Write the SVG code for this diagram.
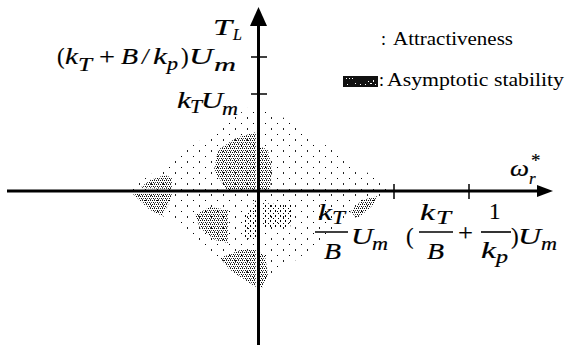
<svg xmlns="http://www.w3.org/2000/svg" width="566" height="345" viewBox="0 0 566 345">
<defs>
<style>
text{font-family:'Liberation Serif','DejaVu Serif',serif;fill:#000}
.m{font-style:italic;font-size:23px;stroke:#000;stroke-width:0.2}
.s{font-style:italic;font-size:19px;stroke:#000;stroke-width:0.2}
.r{font-size:23px;stroke:#000;stroke-width:0.15}
.lg{font-size:18px}
.ax{stroke:#000;stroke-width:3;fill:none}
.tk{stroke:#000;stroke-width:1.5;fill:none}
.bar{stroke:#000;stroke-width:1.6}
</style>
<pattern id="sparse" width="12" height="11" patternUnits="userSpaceOnUse">
<rect x="1" y="2" width="1" height="1" fill="#000"/>
<rect x="7" y="7" width="1" height="2" fill="#222"/>
</pattern>
<pattern id="mid" width="5" height="5" patternUnits="userSpaceOnUse">
<rect x="0" y="0" width="1" height="2" fill="#000"/>
<rect x="3" y="3" width="1" height="1" fill="#000"/>
</pattern>
<pattern id="dense" width="4" height="4" patternUnits="userSpaceOnUse">
<rect x="0" y="0" width="1" height="1" fill="#000"/>
<rect x="2" y="0" width="1" height="1" fill="#222"/>
<rect x="1" y="2" width="1" height="1" fill="#000"/>
<rect x="3" y="2" width="1" height="1" fill="#444"/>
<rect x="2" y="3" width="1" height="1" fill="#555"/>
</pattern>
</defs>
<rect width="566" height="345" fill="#fff"/>

<g id="regions">
<polygon id="attractiveness" points="128,190 258,101 394,190 258,287" fill="url(#sparse)"/>
<g id="asymptotic" fill="url(#dense)">
<polygon points="218,150 236,138 256,132 256,189 226,189 214,170"/>
<polygon points="259,146 268,150 272,170 270,189 259,189"/>
<polygon points="140,188 150,180 165,175 172,178 172,189"/>
<polygon points="133,194 172,194 168,205 162,216 150,210"/>
<polygon points="195,215 210,207 228,210 228,243 215,240 200,228"/>
<polygon points="220,258 240,250 256,250 256,287 245,280 230,270"/>
<polygon points="259,252 265,256 268,275 262,288 259,288"/>
<polygon points="350,212 362,200 378,196 372,206 358,218"/>
</g>
<g fill="url(#mid)">
<polygon points="262,203 293,205 290,228 262,228"/>
<polygon points="245,215 256,200 256,240 245,238"/>
</g>
</g>

<g id="axes">
<line class="ax" x1="7" y1="191" x2="540" y2="191"/>
<polygon points="553,191 537,185 537,197" fill="#000"/>
<line class="ax" x1="258.5" y1="22" x2="258.5" y2="345"/>
<polygon points="258.5,7 250,26 267,26" fill="#000"/>
<line class="tk" x1="251" y1="57" x2="267" y2="57"/>
<line class="tk" x1="251" y1="94" x2="267" y2="94"/>
<line class="tk" x1="394" y1="184" x2="394" y2="199"/>
<line class="tk" x1="469" y1="184" x2="469" y2="199"/>
</g>

<g id="axis-labels">
<text class="m" x="213" y="35" textLength="19" lengthAdjust="spacingAndGlyphs">T</text>
<text class="s" x="233" y="40" style="font-size:16px">L</text>
<text class="m" x="510" y="176" textLength="19" lengthAdjust="spacingAndGlyphs">ω</text>
<text class="s" x="529" y="184" style="font-size:17px">r</text>
<text class="r" x="531" y="167" style="font-size:19px">*</text>
</g>

<g id="label-ktb-kp">
<text class="r" x="57" y="64">(</text>
<text class="m" x="65" y="64" textLength="13" lengthAdjust="spacingAndGlyphs">k</text>
<text class="s" x="78" y="71" textLength="14" lengthAdjust="spacingAndGlyphs">T</text>
<text class="r" x="99" y="64" textLength="16" lengthAdjust="spacingAndGlyphs">+</text>
<text class="m" x="121" y="64" textLength="17" lengthAdjust="spacingAndGlyphs">B</text>
<text class="m" x="142" y="64">/</text>
<text class="m" x="153" y="64" textLength="14" lengthAdjust="spacingAndGlyphs">k</text>
<text class="s" x="167" y="70" textLength="11" lengthAdjust="spacingAndGlyphs">p</text>
<text class="r" x="181" y="64">)</text>
<text class="m" x="189" y="64" textLength="24" lengthAdjust="spacingAndGlyphs">U</text>
<text class="s" x="214" y="71" textLength="22" lengthAdjust="spacingAndGlyphs">m</text>
</g>

<g id="label-kt">
<text class="m" x="177" y="108" textLength="14" lengthAdjust="spacingAndGlyphs">k</text>
<text class="s" x="190" y="113" textLength="12" lengthAdjust="spacingAndGlyphs">T</text>
<text class="m" x="201" y="108" textLength="22" lengthAdjust="spacingAndGlyphs">U</text>
<text class="s" x="222" y="115" textLength="16" lengthAdjust="spacingAndGlyphs">m</text>
</g>

<g id="label-ktb">
<text class="m" x="318" y="220" textLength="14" lengthAdjust="spacingAndGlyphs">k</text>
<text class="s" x="332" y="224" textLength="13" lengthAdjust="spacingAndGlyphs">T</text>
<line class="bar" x1="315" y1="232" x2="348" y2="232"/>
<text class="m" x="324" y="259" textLength="17" lengthAdjust="spacingAndGlyphs">B</text>
<text class="m" x="351" y="244" textLength="22" lengthAdjust="spacingAndGlyphs">U</text>
<text class="s" x="372" y="250" textLength="16" lengthAdjust="spacingAndGlyphs">m</text>
</g>

<g id="label-ktb-1kp">
<text class="r" x="406" y="244">(</text>
<text class="m" x="420" y="220" textLength="15" lengthAdjust="spacingAndGlyphs">k</text>
<text class="s" x="436" y="224" textLength="15" lengthAdjust="spacingAndGlyphs">T</text>
<line class="bar" x1="419" y1="232" x2="453" y2="232"/>
<text class="m" x="427" y="259" textLength="17" lengthAdjust="spacingAndGlyphs">B</text>
<text class="r" x="458" y="240" textLength="15" lengthAdjust="spacingAndGlyphs">+</text>
<text class="r" x="489" y="219">1</text>
<line class="bar" x1="481" y1="232" x2="511" y2="232"/>
<text class="m" x="481" y="258" textLength="15" lengthAdjust="spacingAndGlyphs">k</text>
<text class="s" x="496" y="263" textLength="12" lengthAdjust="spacingAndGlyphs">p</text>
<text class="r" x="511" y="244">)</text>
<text class="m" x="518" y="244" textLength="23" lengthAdjust="spacingAndGlyphs">U</text>
<text class="s" x="541" y="250" textLength="16" lengthAdjust="spacingAndGlyphs">m</text>
</g>

<g id="legend">
<text class="lg" x="381" y="45">:</text>
<text class="lg" x="393" y="45" textLength="120" lengthAdjust="spacingAndGlyphs">Attractiveness</text>
<rect x="343" y="76" width="35" height="11" fill="#111"/>
<g fill="#fff">
<rect x="346" y="78" width="1" height="1"/><rect x="349" y="78" width="1" height="1"/><rect x="352" y="78" width="1" height="1"/>
<rect x="347" y="84" width="1" height="1"/><rect x="355" y="83" width="1" height="1"/><rect x="360" y="84" width="1" height="1"/>
<rect x="368" y="81" width="1" height="1"/><rect x="370" y="83" width="2" height="1"/><rect x="373" y="80" width="1" height="2"/>
<rect x="365" y="84" width="1" height="1"/><rect x="375" y="84" width="1" height="1"/>
</g>
<text class="lg" x="379" y="86">:</text>
<text class="lg" x="387" y="86" textLength="177" lengthAdjust="spacingAndGlyphs">Asymptotic stability</text>
</g>
</svg>
